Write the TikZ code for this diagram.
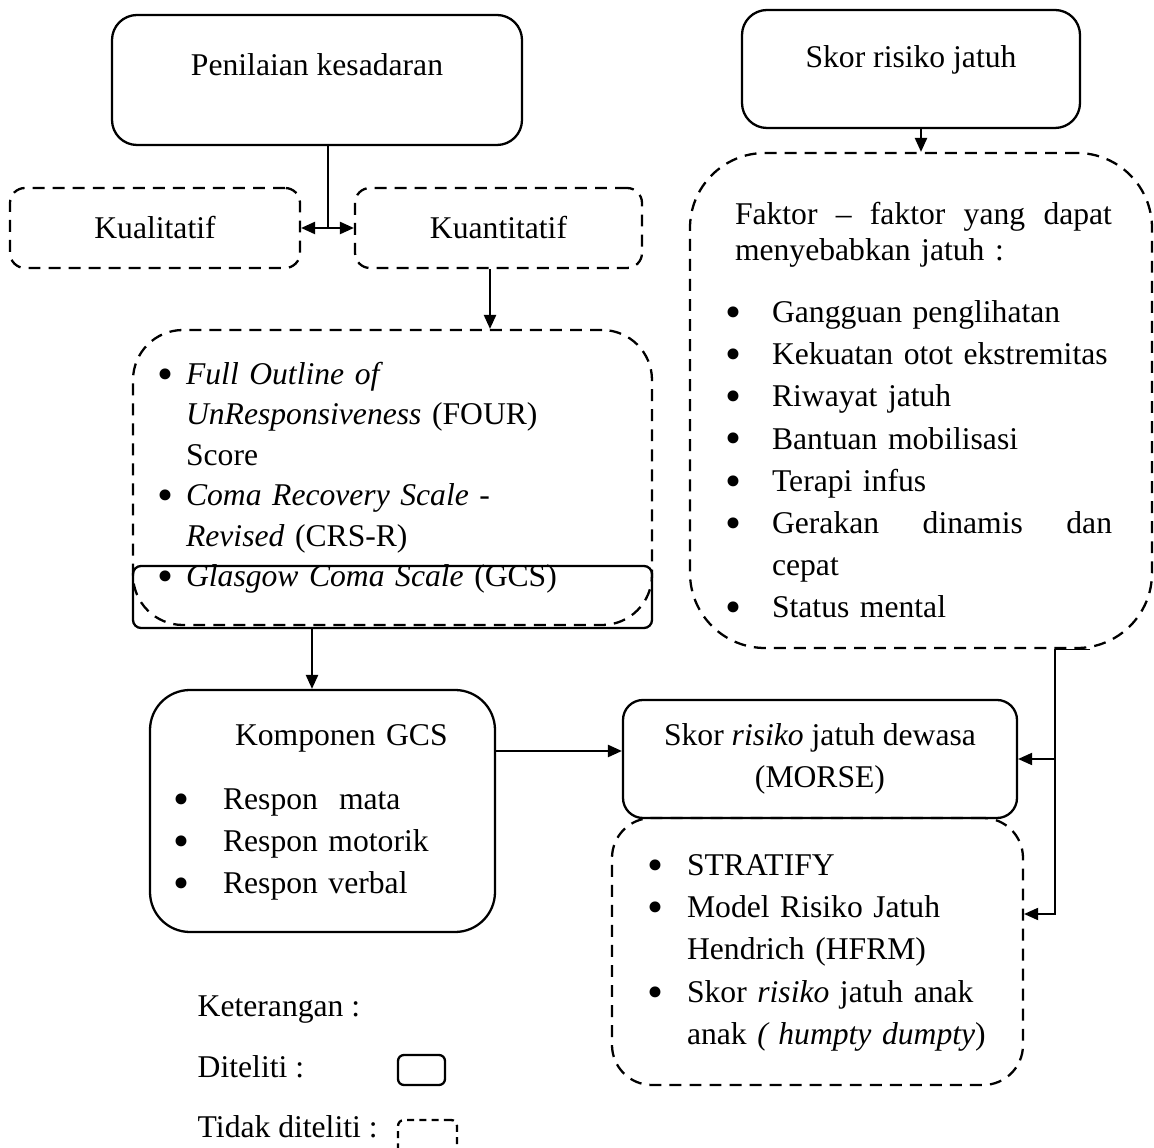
\documentclass[tikz,border=0pt]{standalone}
\usepackage{fontspec}
\setmainfont{Liberation Serif}
\usetikzlibrary{arrows.meta,positioning}
\newcommand{\bigdot}{\makebox[6.3pt][c]{\raisebox{-2.8pt}{\fontsize{26}{24}\selectfont\textbullet}}}
\tikzset{
    solidbox/.style={draw, line width=1.3pt, rounded corners=#1, align=center},
    dashbox/.style={draw, line width=1.3pt, dash pattern=on 6.8pt off 4.6pt, rounded corners=#1},
    >={Triangle[length=8pt,width=7pt]}
}
\begin{document}
\begin{tikzpicture}[font=\fontsize{18}{24}\selectfont, line width=1pt]
            \clip (0,0) rectangle (23.08,-22.96);

            \node[solidbox=0.5cm, minimum width=8.2cm, minimum height=2.6cm, text depth=0.62cm] (pen) at (6.34,-1.60) {Penilaian kesadaran};
            \node[dashbox=0.3cm, minimum width=5.8cm, minimum height=1.6cm] (kual) at (3.10,-4.56) {Kualitatif};
            \node[dashbox=0.3cm, minimum width=5.74cm, minimum height=1.6cm] (kuan) at (9.97,-4.56) {Kuantitatif};

            \node[dashbox=1cm, minimum width=10.38cm, minimum height=5.9cm, text width=9.3cm, inner sep=0pt, align=left, font=\fontsize{18}{23}\selectfont] (ind) at (7.85,-9.55) {%
                \begin{tabular}{@{}l@{\hspace{0.3cm}}l@{}}
                    \bigdot & \textit{Full Outline of}\\
                     & \textit{UnResponsiveness} (FOUR)\\
                     & Score\\
                    \bigdot & \textit{Coma Recovery Scale} -\\
                     & \textit{Revised} (CRS-R)\\
                    \bigdot & \textit{Glasgow Coma Scale} (GCS)
                \end{tabular}};
            \node[solidbox=0.16cm, minimum width=10.38cm, minimum height=1.24cm] (gcs) at (7.85,-11.94) {};

            \node[solidbox=0.8cm, minimum width=6.9cm, minimum height=4.84cm, text width=5.86cm, inner sep=0pt, align=left] (komp) at (6.45,-16.22) {%
                \begin{tabular}{@{}l@{\hspace{0.72cm}}l@{}}
                    \multicolumn{2}{@{\hspace{1.18cm}}l@{}}{Komponen GCS}\\[0.44cm]
                    \bigdot & Respon\ \ mata\\
                    \bigdot & Respon motorik\\
                    \bigdot & Respon verbal
                \end{tabular}};

            \node[solidbox=0.5cm, minimum width=6.76cm, minimum height=2.36cm, text depth=0.5cm] (skor) at (18.22,-1.38) {Skor risiko jatuh};

            \node[dashbox=1.5cm, minimum width=9.24cm, minimum height=9.9cm, text width=7.72cm, inner sep=0pt, align=left] (faktor) at (18.42,-8.01) {%
                \begin{tabular}{@{}l@{\hspace{0.66cm}}l@{}}
                    \multicolumn{2}{@{\hspace{0.14cm}}l@{}}{\makebox[7.54cm][l]{Faktor\hfill--\hfill faktor\hfill yang\hfill dapat}}\\[-0.12cm]
                    \multicolumn{2}{@{\hspace{0.14cm}}l@{}}{menyebabkan jatuh :}\\[0.4cm]
                    \bigdot & Gangguan penglihatan\\
                    \bigdot & Kekuatan otot ekstremitas\\
                    \bigdot & Riwayat jatuh\\
                    \bigdot & Bantuan mobilisasi\\
                    \bigdot & Terapi infus\\
                    \bigdot & \makebox[6.8cm][l]{Gerakan\hfill dinamis\hfill dan}\\
                     & cepat\\
                    \bigdot & Status mental\\[-0.48cm]
                \end{tabular}};

            \node[solidbox=0.4cm, minimum width=7.88cm, minimum height=2.36cm] (morse) at (16.40,-15.18) {Skor \textit{risiko} jatuh dewasa\\(MORSE)};

            \node[dashbox=0.8cm, minimum width=8.22cm, minimum height=5.34cm, text width=6.7cm, inner sep=0pt, align=left] (jenis) at (16.35,-19.03) {%
                \begin{tabular}{@{}l@{\hspace{0.52cm}}l@{}}
                    \bigdot & STRATIFY\\
                    \bigdot & Model Risiko Jatuh\\
                     & Hendrich (HFRM)\\
                    \bigdot & Skor \textit{risiko} jatuh anak\\
                     & anak \textit{( humpty dumpty})
                \end{tabular}};

            \node[anchor=base west] (ket) at (3.82,-20.34) {Keterangan :};
            \node[anchor=base west] (dit) at (3.82,-21.56) {Diteliti :};
            \node[anchor=base west] (tdk) at (3.82,-22.76) {Tidak diteliti :};
            \node[solidbox=0.12cm, minimum width=0.94cm, minimum height=0.6cm] (ditbox) at (8.43,-21.40) {};
            \node[dashbox=0.12cm, dash pattern=on 4pt off 3pt, minimum width=1.18cm, minimum height=0.8cm] (tdkbox) at (8.55,-22.80) {};

            \coordinate (j1) at ([xshift=0.22cm]pen.south);
            \draw (j1) -- (j1 |- kual.east);
            \draw[<->] (kual.east) -- (kuan.west);
            \draw[->] ([xshift=-0.17cm]kuan.south) -- ([xshift=-0.17cm]kuan.south |- ind.north);

            \coordinate (j2) at ([xshift=-0.21cm]komp.north);
            \draw[->] (j2 |- gcs.south) -- (j2);
            \coordinate (j3) at ([yshift=0.16cm]morse.west);
            \draw[->] (komp.east |- j3) -- (j3);

            \draw[->] (faktor.north |- skor.south) -- (faktor.north);
            \coordinate (r) at ([xshift=2.68cm]faktor.south);
            \draw[->, line width=0.7pt] ([xshift=0.7cm]r) -- (r) |- (morse.east);
            \draw[->, line width=0.7pt] (r |- morse.east) |- ([yshift=0.75cm]jenis.east);
        \end{tikzpicture}
\end{document}
